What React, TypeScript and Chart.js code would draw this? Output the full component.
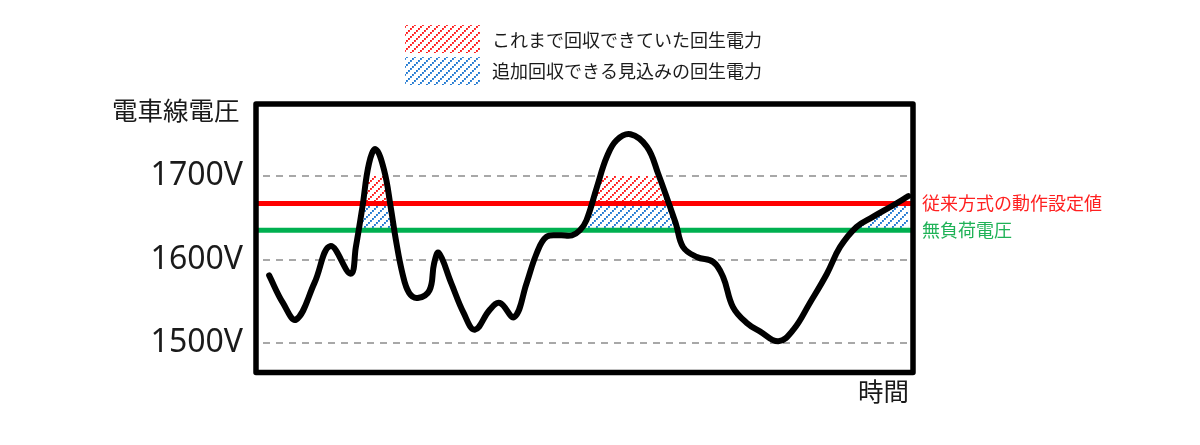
import React, { useEffect, useRef } from 'react';
import { Chart, registerables } from 'chart.js';

Chart.register(...registerables);

// ---- data ----
const TIME = [
  2.0, 4.1, 6.1, 8.9, 11.3, 14.4, 15.2, 16.2, 17.2, 18.2,
  19.5, 20.5, 21.3, 22.3, 23.3, 24.6, 26.4, 27.1, 27.8, 29.7,
  31.6, 33.3, 35.6, 37.1, 39.3, 41.2, 42.7, 44.2, 46.3, 48.1,
  49.3, 50.3, 51.9, 53.4, 54.9, 57.0, 59.5, 61.2, 63.9, 65.0,
  67.1, 69.6, 71.1, 72.6, 74.7, 76.7, 79.5, 81.8, 84.3, 86.9,
  88.9, 91.4, 93.9, 97.0, 99.3,
];
const VOLTAGE = [
  1581, 1548, 1528, 1572, 1616, 1583, 1615, 1663, 1715, 1732,
  1707, 1663, 1623, 1583, 1560, 1554, 1563, 1595, 1608, 1572,
  1536, 1516, 1540, 1548, 1531, 1572, 1607, 1627, 1629, 1629,
  1635, 1647, 1687, 1723, 1743, 1750, 1735, 1703, 1643, 1615,
  1603, 1597, 1579, 1543, 1524, 1514, 1502, 1516, 1548, 1583,
  1615, 1639, 1651, 1665, 1676,
];
const Y_TICKS = [1500, 1600, 1700];
const Y_MIN = 1464.7;
const Y_MAX = 1786.2;
const X_MIN = 0;
const X_MAX = 100;
const SETTING_V = 1667; // 従来方式の動作設定値
const NO_LOAD_V = 1635; // 無負荷電圧
const HATCH_TOP_V = 1700;

const Y_TITLE = '電車線電圧';
const X_TITLE = '時間';
const SETTING_LABEL = '従来方式の動作設定値';
const NO_LOAD_LABEL = '無負荷電圧';
const LEGEND_LABELS = ['これまで回収できていた回生電力', '追加回収できる見込みの回生電力'];

const JP = '"Noto Sans CJK JP", "Noto Sans", sans-serif';
const RED = '#ff0000';
const GREEN = '#00b050';
const RED_HATCH = '#ff1a1a';
const BLUE_HATCH = '#1f78d1';
const TENSION = 0.4;

function makeHatch(color: string): CanvasPattern {
  const p = 8;
  const c = document.createElement('canvas');
  c.width = p;
  c.height = p;
  const g = c.getContext('2d')!;
  g.fillStyle = '#ffffff';
  g.fillRect(0, 0, p, p);
  g.fillStyle = color;
  for (let i = 0; i < 4; i++) {
    g.fillRect(i * 2, p - 2 - i * 2, 1.9, 1.9);
  }
  return g.createPattern(c, 'repeat')!;
}

export default function App() {
  const ref = useRef<HTMLCanvasElement>(null);

  useEffect(() => {
    const canvas = ref.current!;
    const redPat = makeHatch(RED_HATCH);
    const bluePat = makeHatch(BLUE_HATCH);
    const curve = TIME.map((t, i) => ({ x: t, y: VOLTAGE[i] }));

    const overlay = {
      id: 'overlay',
      beforeDraw(chart: any) {
        const { ctx, chartArea: a } = chart;
        const y = chart.scales.y;
        ctx.save();
        ctx.strokeStyle = '#a8a8a8';
        ctx.lineWidth = 2;
        ctx.setLineDash([7, 6]);
        for (const v of Y_TICKS) {
          const py = Math.round(y.getPixelForValue(v));
          ctx.beginPath();
          ctx.moveTo(a.left + 7, py);
          ctx.lineTo(a.right - 6, py);
          ctx.stroke();
        }
        ctx.restore();
      },
      afterDatasetsDraw(chart: any) {
        const { ctx, chartArea: a } = chart;
        ctx.save();
        ctx.strokeStyle = '#000000';
        ctx.lineWidth = 5.5;
        ctx.lineJoin = 'round';
        ctx.strokeRect(a.left, a.top, a.right - a.left, a.bottom - a.top);
        ctx.restore();
      },
      afterDraw(chart: any) {
        const { ctx, chartArea: a } = chart;
        const y = chart.scales.y;
        ctx.save();
        ctx.textBaseline = 'middle';
        // axis titles
        ctx.fillStyle = '#1a1a1a';
        ctx.font = `25.5px ${JP}`;
        ctx.textAlign = 'left';
        ctx.fillText(Y_TITLE, a.left - 144, a.top + 6);
        ctx.textAlign = 'right';
        ctx.fillText(X_TITLE, a.right - 4, a.bottom + 19);
        // line labels
        ctx.font = `18px ${JP}`;
        ctx.textAlign = 'left';
        ctx.fillStyle = '#ff2020';
        ctx.fillText(SETTING_LABEL, a.right + 9, y.getPixelForValue(SETTING_V));
        ctx.fillStyle = '#1fb257';
        ctx.fillText(NO_LOAD_LABEL, a.right + 9, y.getPixelForValue(NO_LOAD_V));
        // legend
        const pats = [redPat, bluePat];
        const boxTops = [25, 57];
        const textYs = [40, 71];
        for (let i = 0; i < 2; i++) {
          ctx.fillStyle = pats[i];
          ctx.fillRect(405, boxTops[i], 75, 28);
          ctx.fillStyle = '#1a1a1a';
          ctx.font = `18px ${JP}`;
          ctx.fillText(LEGEND_LABELS[i], 492, textYs[i]);
        }
        ctx.restore();
      },
    };

    const transparent = 'rgba(0,0,0,0)';
    const chart = new Chart(canvas, {
      type: 'line',
      data: {
        datasets: [
          {
            label: 'voltage',
            data: curve,
            borderColor: '#000000',
            borderWidth: 6,
            pointRadius: 0,
            tension: TENSION,
            borderCapStyle: 'round',
            borderJoinStyle: 'round',
            fill: false,
          },
          {
            label: 'setting',
            data: [{ x: X_MIN, y: SETTING_V }, { x: X_MAX, y: SETTING_V }],
            borderColor: RED,
            borderWidth: 5,
            pointRadius: 0,
            fill: false,
          },
          {
            label: 'noload',
            data: [{ x: X_MIN, y: NO_LOAD_V }, { x: X_MAX, y: NO_LOAD_V }],
            borderColor: GREEN,
            borderWidth: 5,
            pointRadius: 0,
            fill: false,
          },
          {
            label: 'cover',
            data: curve,
            borderColor: transparent,
            borderWidth: 0,
            pointRadius: 0,
            tension: TENSION,
            fill: { target: { value: HATCH_TOP_V }, above: '#ffffff', below: transparent },
          },
          {
            label: 'recovered',
            data: curve,
            borderColor: transparent,
            borderWidth: 0,
            pointRadius: 0,
            tension: TENSION,
            fill: { target: { value: SETTING_V }, above: redPat, below: transparent },
          },
          {
            label: 'additional',
            data: curve,
            borderColor: transparent,
            borderWidth: 0,
            pointRadius: 0,
            tension: TENSION,
            fill: { target: { value: NO_LOAD_V }, above: bluePat, below: transparent },
          },
        ],
      } as any,
      options: {
        responsive: false,
        animation: false,
        events: [],
        layout: { padding: { left: 0, top: 104, right: 287, bottom: 72.5 } },
        plugins: {
          legend: { display: false },
          tooltip: { enabled: false },
          filler: { drawTime: 'beforeDatasetsDraw' },
        },
        scales: {
          x: { type: 'linear', min: X_MIN, max: X_MAX, display: false },
          y: {
            type: 'linear',
            min: Y_MIN,
            max: Y_MAX,
            afterBuildTicks: (s: any) => {
              s.ticks = Y_TICKS.map((v) => ({ value: v }));
            },
            afterFit: (s: any) => {
              s.width = 256;
            },
            grid: { display: false, drawTicks: false },
            border: { display: false },
            ticks: {
              padding: 13,
              color: '#1a1a1a',
              font: { family: '"Noto Sans", sans-serif', size: 32 },
              callback: (v: any) => `${v}V`,
            },
          },
        },
      } as any,
      plugins: [overlay],
    });
    return () => chart.destroy();
  }, []);

  return (
    <div style={{ position: 'absolute', left: 0, top: 0, width: 1200, height: 445, background: '#ffffff' }}>
      <canvas ref={ref} width={1200} height={445} style={{ display: 'block', width: 1200, height: 445 }} />
    </div>
  );
}
